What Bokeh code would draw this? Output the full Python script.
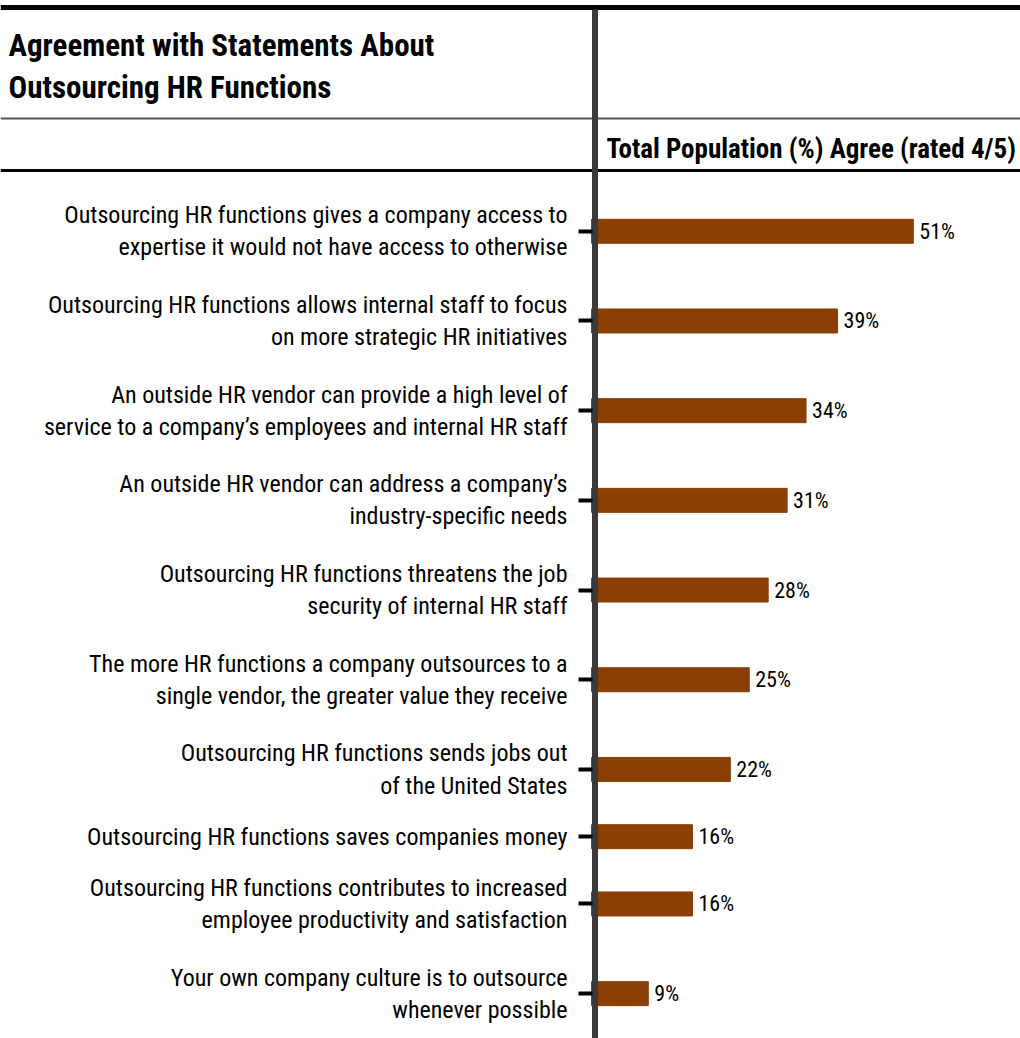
from bokeh.plotting import figure
from bokeh.models import Range1d, FixedTicker, ColumnDataSource, LinearAxis
from bokeh.core.properties import value
from bokeh.embed import file_html
from bokeh.resources import INLINE

# ---------------- data ----------------
statements = [
    "Outsourcing HR functions gives a company access to\nexpertise it would not have access to otherwise",
    "Outsourcing HR functions allows internal staff to focus\non more strategic HR initiatives",
    "An outside HR vendor can provide a high level of\nservice to a company\u2019s employees and internal HR staff",
    "An outside HR vendor can address a company\u2019s\nindustry-specific needs",
    "Outsourcing HR functions threatens the job\nsecurity of internal HR staff",
    "The more HR functions a company outsources to a\nsingle vendor, the greater value they receive",
    "Outsourcing HR functions sends jobs out\nof the United States",
    "Outsourcing HR functions saves companies money",
    "Outsourcing HR functions contributes to increased\nemployee productivity and satisfaction",
    "Your own company culture is to outsource\nwhenever possible",
]
agree_pct = [51, 39, 34, 31, 28, 25, 22, 16, 16, 9]
value_labels = [f"{v}%" for v in agree_pct]
title_lines = ["Agreement with Statements About", "Outsourcing HR Functions"]
header_text = "Total Population (%) Agree (rated 4/5)"

# ---------------- style / layout ----------------
FONT = "Roboto Condensed, DejaVu Sans Condensed, Liberation Sans Narrow, sans-serif"
BAR_COLOR = "#8B3F04"
AXIS_GRAY = "#3a3a3a"
W, H = 1020, 1038
BODY_TOP = 171          # pixel row where the bar area starts
ZERO_PX = 591           # pixel column of 0 %
PX_PER_PCT = 6.31
AXIS_X = 592

# rows: vertical room of each statement follows its number of text lines
n_lines = [s.count("\n") + 1 for s in statements]
centers = [0.0]
for i in range(1, len(statements)):
    centers.append(centers[-1] + (n_lines[i - 1] + n_lines[i]) / 2.0)
rows_top = centers[0] - 1.333
rows_bottom = centers[-1] + 1.0
px_per_row = (H - BODY_TOP) / (rows_bottom - rows_top)
bar_h = 24 / px_per_row

p = figure(width=W, height=H, x_range=Range1d(0, W), y_range=Range1d(H, 0),
           output_backend="svg", toolbar_location=None, min_border=0,
           x_axis_location=None, y_axis_location=None)
p.grid.visible = False
p.outline_line_color = None
p.extra_x_ranges = {"pct": Range1d(-ZERO_PX / PX_PER_PCT, (W - ZERO_PX) / PX_PER_PCT)}
p.extra_y_ranges = {"rows": Range1d(rows_bottom, rows_top - BODY_TOP / px_per_row)}

src = ColumnDataSource(dict(y=centers, v=agree_pct, lab=value_labels))
p.hbar(y="y", left=0, right="v", height=bar_h, color=BAR_COLOR, source=src,
       x_range_name="pct", y_range_name="rows")
p.text(x="v", y="y", text="lab", x_offset=6, text_font=value(FONT), text_font_size="22px",
       text_baseline="middle", text_align="left", text_color="black", source=src,
       x_range_name="pct", y_range_name="rows")

# decoration rules
p.segment(x0=[0], y0=[7], x1=[W], y1=[7], line_color="black", line_width=5)
p.segment(x0=[0], y0=[118], x1=[W], y1=[118], line_color="#555555", line_width=2)
p.segment(x0=[0], y0=[170], x1=[W], y1=[170], line_color="black", line_width=3)
p.segment(x0=[594.5], y0=[9], x1=[594.5], y1=[H], line_color=AXIS_GRAY, line_width=6)

# titles
p.text(x=[8, 8], y=[45, 87], text=title_lines, text_font=value(FONT), text_font_style="bold",
       text_font_size="31px", text_baseline="middle", text_align="left", text_color="black")
p.text(x=[606], y=[148], text=[header_text], text_font=value(FONT), text_font_style="bold",
       text_font_size="27px", text_baseline="middle", text_align="left", text_color="black")

# statement axis
ax = LinearAxis(y_range_name="rows", fixed_location=AXIS_X,
                ticker=FixedTicker(ticks=centers),
                major_label_overrides={c: s for c, s in zip(centers, statements)})
ax.axis_line_color = None
ax.major_tick_line_color = "black"
ax.major_tick_line_width = 4
ax.major_tick_out = 14
ax.major_tick_in = 0
ax.minor_tick_line_color = None
ax.major_label_standoff = 11
ax.major_label_text_font = FONT
ax.major_label_text_font_size = "24px"
ax.major_label_text_color = "black"
ax.major_label_text_line_height = 1.15
p.add_layout(ax, "left")

open("out.html", "w").write(file_html(p, INLINE))
